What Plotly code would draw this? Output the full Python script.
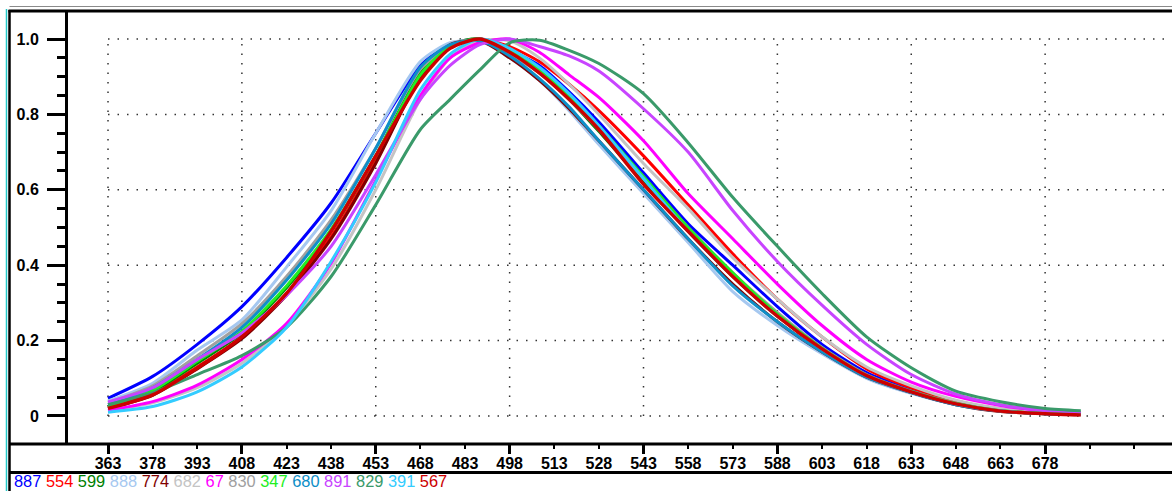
import plotly.graph_objects as go

# ---------------- data ----------------
wavelengths = [363, 378, 393, 408, 423, 438, 453, 468, 478, 488, 498, 508, 518,
               528, 543, 558, 573, 588, 603, 618, 633, 648, 663, 678, 690]

series_names = ["887", "554", "599", "888", "774", "682", "67", "830", "347",
                "680", "891", "829", "391", "567"]

series_colors = ["#0000FF", "#FF0000", "#008000", "#A6C8F0", "#800000", "#C4C4C4",
                 "#FF00FF", "#A0A0A0", "#22EE22", "#0E8FC8", "#C844FF", "#3A9A6A",
                 "#33CCFF", "#CC0000"]

s887 = [.047, .105, .19, .29, .42, .565, .75, .93, .985, 1.0, .97, .93, .86, .78, .645, .51, .40, .29, .19, .115, .07, .036, .016, .008, .005]
s554 = [.022, .058, .13, .21, .325, .475, .675, .90, .98, 1.0, .98, .94, .88, .81, .69, .56, .43, .31, .21, .125, .075, .04, .018, .008, .005]
s599 = [.025, .065, .14, .22, .34, .49, .69, .91, .985, 1.0, .965, .91, .84, .755, .62, .49, .37, .265, .178, .107, .064, .032, .013, .006, .004]
s888 = [.04, .087, .175, .255, .395, .545, .75, .94, .99, .995, .95, .89, .81, .72, .59, .46, .33, .24, .165, .10, .06, .03, .013, .006, .004]
s774 = [.02, .055, .125, .205, .32, .47, .67, .90, .985, .995, .95, .89, .815, .73, .60, .47, .35, .25, .17, .103, .062, .03, .012, .006, .003]
s682 = [.015, .035, .075, .14, .24, .39, .60, .84, .95, .995, .995, .95, .88, .80, .67, .55, .42, .31, .21, .13, .08, .042, .02, .009, .005]
s67 = [.015, .038, .082, .15, .245, .405, .625, .85, .95, .99, 1.0, .965, .905, .845, .73, .59, .47, .35, .24, .15, .09, .052, .028, .013, .008]
s830 = [.035, .08, .16, .245, .37, .52, .71, .92, .98, 1.0, .96, .91, .84, .76, .63, .50, .38, .275, .182, .11, .066, .034, .014, .007, .004]
s347 = [.025, .068, .145, .225, .345, .495, .69, .905, .98, 1.0, .97, .92, .85, .77, .635, .50, .38, .27, .18, .108, .065, .033, .014, .007, .004]
s680 = [.03, .075, .15, .235, .36, .51, .71, .925, .985, .995, .955, .895, .82, .73, .60, .47, .345, .25, .17, .103, .062, .03, .013, .006, .004]
s891 = [.037, .075, .15, .22, .32, .45, .64, .84, .93, .985, 1.0, .98, .955, .915, .815, .70, .545, .41, .294, .19, .11, .058, .03, .015, .01]
s829 = [.03, .062, .11, .16, .235, .37, .56, .76, .84, .918, .99, .997, .97, .935, .855, .725, .58, .45, .325, .21, .128, .066, .038, .02, .014]
s391 = [.01, .025, .064, .13, .235, .41, .62, .865, .96, 1.0, .975, .925, .855, .77, .63, .49, .37, .265, .178, .107, .064, .032, .013, .006, .004]
s567 = [.02, .056, .127, .21, .325, .49, .69, .89, .975, 1.0, .965, .91, .84, .76, .615, .49, .37, .265, .178, .107, .064, .032, .013, .006, .003]

series_values = [s887, s554, s599, s888, s774, s682, s67, s830, s347, s680,
                 s891, s829, s391, s567]

x_tick_values = list(range(363, 709, 15))
x_tick_labels = [str(v) if v <= 678 else "" for v in x_tick_values]
x_major_ticks = list(range(363, 709, 45))
x_grid_values = list(range(363, 679, 45))
y_tick_values = [0, 0.2, 0.4, 0.6, 0.8, 1.0]
y_tick_labels = ["0", "0.2", "0.4", "0.6", "0.8", "1.0"]
y_minor_ticks = [round(i * 0.05, 2) for i in range(1, 20) if i % 4 != 0]

# ---------------- geometry ----------------
W, H = 1172, 491
ML, MR, MT, MB = 68, 0, 11, 47
PW, PH = W - ML - MR, H - MT - MB
X_RANGE = [349.55, 720.65]
Y_RANGE = [-0.0743, 1.0743]

def px_to_paper_x(px):
    return (px - ML) / PW

def py_to_paper_y(py):
    return (H - MB - py) / PH

FONT = "Liberation Sans, Arial, sans-serif"

fig = go.Figure()

for name, color, vals in zip(series_names, series_colors, series_values):
    fig.add_trace(go.Scatter(
        x=wavelengths, y=vals, mode="lines", name=name,
        line=dict(color=color, width=3.4 if name == "567" else 3,
                  shape="spline", smoothing=0.7),
        showlegend=False, hoverinfo="skip"))

# helper (empty) trace so the overlay axis with long major ticks is drawn
fig.add_trace(go.Scatter(x=[], y=[], xaxis="x2", yaxis="y", showlegend=False,
                         hoverinfo="skip"))

shapes = []
grid_line = dict(color="#333333", width=1.5, dash="1.5px,8px")
for yv in y_tick_values:
    shapes.append(dict(type="line", xref="x", yref="y", x0=x_grid_values[0],
                       x1=X_RANGE[1], y0=yv, y1=yv, line=grid_line, layer="below"))
for xv in x_grid_values:
    shapes.append(dict(type="line", xref="x", yref="y", x0=xv, x1=xv,
                       y0=0, y1=1.0, line=grid_line, layer="below"))

left_px = 9.5
# frame lines
shapes += [
    dict(type="line", xref="paper", yref="paper", x0=px_to_paper_x(left_px), x1=1,
         y0=py_to_paper_y(6.5), y1=py_to_paper_y(6.5), line=dict(color="#8a8a8a", width=1)),
    dict(type="line", xref="paper", yref="paper", x0=px_to_paper_x(left_px - 1), x1=1,
         y0=py_to_paper_y(11), y1=py_to_paper_y(11), line=dict(color="black", width=3)),
    dict(type="line", xref="paper", yref="paper", x0=px_to_paper_x(6.5), x1=px_to_paper_x(6.5),
         y0=py_to_paper_y(9), y1=py_to_paper_y(495), line=dict(color="#22C8C8", width=1.5)),
    dict(type="line", xref="paper", yref="paper", x0=px_to_paper_x(left_px), x1=px_to_paper_x(left_px),
         y0=py_to_paper_y(10), y1=py_to_paper_y(495), line=dict(color="black", width=2.5)),
    dict(type="line", xref="paper", yref="paper", x0=px_to_paper_x(left_px), x1=1,
         y0=0, y1=0, line=dict(color="black", width=3)),
    dict(type="line", xref="paper", yref="paper", x0=px_to_paper_x(left_px), x1=1,
         y0=py_to_paper_y(472.5), y1=py_to_paper_y(472.5), line=dict(color="black", width=3)),
]

legend_text = " ".join(
    f"<span style='color:{c}'>{n}</span>" for n, c in zip(series_names, series_colors))

fig.update_layout(
    width=W, height=H, autosize=False,
    margin=dict(l=ML, r=MR, t=MT, b=MB, pad=0),
    paper_bgcolor="white", plot_bgcolor="white",
    showlegend=False,
    font=dict(family=FONT, color="black"),
    xaxis=dict(range=X_RANGE, tickmode="array", tickvals=x_tick_values,
               ticktext=x_tick_labels, ticks="outside", ticklen=4, tickwidth=2,
               tickcolor="black", showgrid=False, zeroline=False, showline=False,
               tickfont=dict(family=FONT, size=16, color="black", weight="bold"),
               ticklabelstandoff=1),
    xaxis2=dict(range=X_RANGE, overlaying="x", anchor="y", side="bottom",
                tickmode="array", tickvals=x_major_ticks, ticks="outside",
                ticklen=9, tickwidth=3, tickcolor="black", showticklabels=False,
                showgrid=False, zeroline=False, showline=False),
    yaxis=dict(range=Y_RANGE, tickmode="array", tickvals=y_tick_values,
               ticktext=y_tick_labels, ticks="outside", ticklen=18, tickwidth=3,
               tickcolor="black", showline=True, linewidth=3, linecolor="black",
               showgrid=False, zeroline=False,
               tickfont=dict(family=FONT, size=16, color="black", weight="bold"),
               ticklabelstandoff=5,
               minor=dict(tickmode="array", tickvals=y_minor_ticks, ticks="outside",
                          ticklen=8, tickwidth=3, tickcolor="black", showgrid=False)),
    shapes=shapes,
    annotations=[dict(xref="paper", yref="paper", x=px_to_paper_x(12.5),
                      y=py_to_paper_y(491), xanchor="left", yanchor="bottom",
                      borderpad=0, text=legend_text, showarrow=False,
                      font=dict(family=FONT, size=16.4))],
)

fig.write_html(
    "out.html",
    config={"displayModeBar": False},
    post_script="document.documentElement.style.margin='0';"
                "document.body.style.margin='0';document.body.style.padding='0';"
                "document.body.style.overflow='hidden';")
